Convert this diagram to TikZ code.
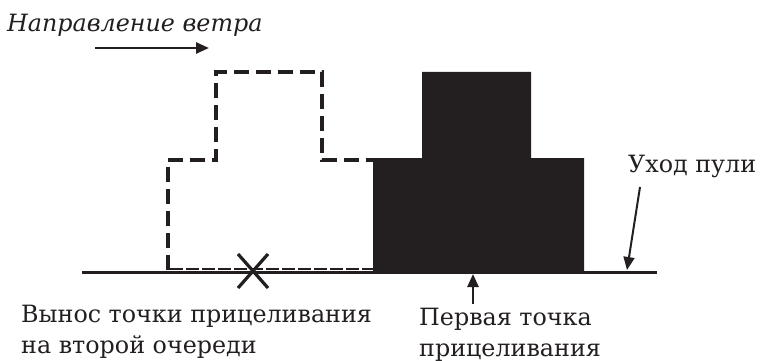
\documentclass[tikz,border=0pt]{standalone}
\usepackage{fontspec}
\setmainfont{DejaVu Serif}
\usetikzlibrary{arrows.meta}
\definecolor{ink}{HTML}{231F20}
\begin{document}
\begin{tikzpicture}[x=1pt,y=-1pt,
  lbl/.style={anchor=base west,inner sep=0pt,text=ink,font=\fontsize{23.8}{30.5}\selectfont},
  arr/.style={draw=ink,line width=2.5pt,-{Triangle[length=13pt,width=11pt]}},
  dashline/.style={draw=ink,line width=3.8pt,dash pattern=on 15pt off 7pt},
  ground/.style={draw=ink,line width=3pt}]
\useasboundingbox (0,0) rectangle (766,361);
% texts
\node[lbl,font=\fontsize{23.8}{30}\selectfont\itshape] (wind) at (7,32) {Направление ветра};
\node[lbl] (exit) at (628,172) {Уход пули};
\node[lbl,align=left] (shift) at (21,353) {Вынос точки прицеливания\\на второй очереди};
\node[lbl,align=left] (first) at (419,356) {Первая точка\\прицеливания};
% wind arrow
\coordinate (wa) at (95,48);
\coordinate (wb) at (209,48);
\draw[arr] (wa) -- (wb);
% solid target
\fill[ink] (373,272) -- (373,158) -- (422,158) -- (422,72) -- (531,72) -- (531,158) -- (584,158) -- (584,272) -- cycle;
% dashed target
\draw[dashline] (168,270) -- (168,160) -- (216,160) -- (216,72) -- (322,72) -- (322,160) -- (378,160);
\draw[draw=ink,line width=2pt,dash pattern=on 13pt off 3pt] (170,269) -- (373,269);
% ground
\coordinate (g1) at (82,272);
\coordinate (g2) at (657,272);
\draw[ground] (g1) -- (g2);
% cross
\coordinate (xc) at (253,271);
\draw[draw=ink,line width=3.2pt] ([shift={(-15,-17)}]xc) -- ([shift={(15,17)}]xc)
  ([shift={(-15,17)}]xc) -- ([shift={(15,-17)}]xc);
% first aim point arrow
\coordinate (fa) at (473,304);
\coordinate (fb) at (473,274);
\draw[arr] (fa) -- (fb);
% bullet drift arrow
\coordinate (da) at (640,187);
\coordinate (db) at (627,270);
\draw[arr,line width=2pt] (da) -- (db);
\end{tikzpicture}
\end{document}
